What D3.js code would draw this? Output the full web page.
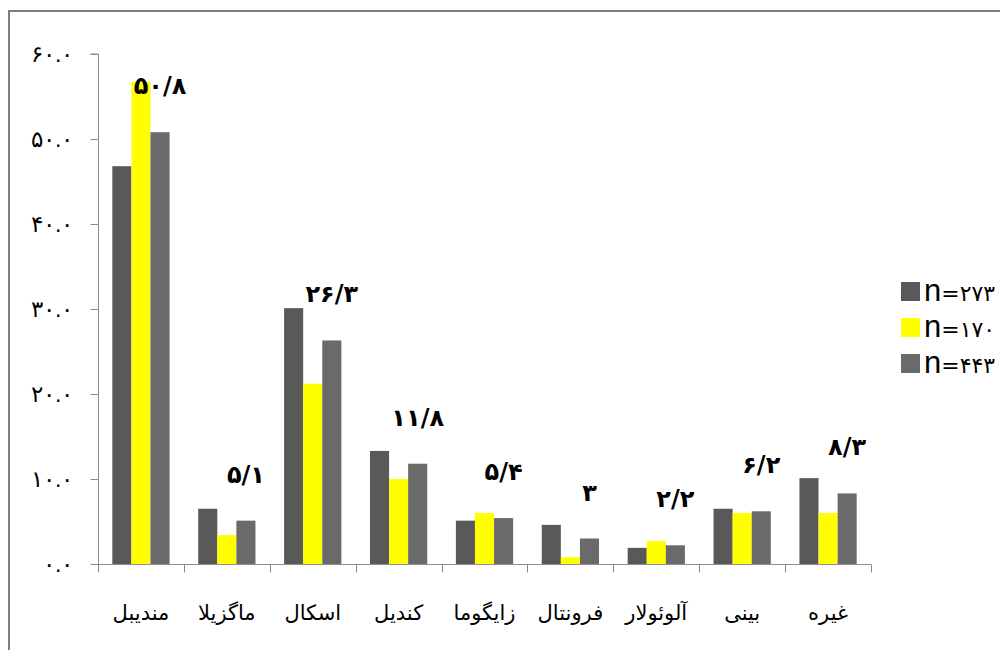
<!DOCTYPE html>
<html>
<head>
<meta charset="utf-8">
<script src="https://cdn.jsdelivr.net/npm/d3@7"></script>
<style>
  html, body { margin: 0; padding: 0; background: #fff; }
  svg { display: block; }
</style>
</head>
<body>
<div id="chart"></div>
<script>
const categories = ['مندیبل', 'ماگزیلا', 'اسکال', 'کندیل', 'زایگوما', 'فرونتال', 'آلوئولار', 'بینی', 'غیره'];
const seriesNames = ['۲۷۳', '۱۷۰', '۴۴۳'];
const n273 = [46.8, 6.5, 30.1, 13.3, 5.1, 4.6, 1.9, 6.5, 10.1];
const n170 = [56.7, 3.4, 21.2, 10.0, 6.0, 0.8, 2.7, 6.0, 6.0];
const n443 = [50.8, 5.1, 26.3, 11.8, 5.4, 3.0, 2.2, 6.2, 8.3];
const valueLabels = ['۵۰/۸', '۵/۱', '۲۶/۳', '۱۱/۸', '۵/۴', '۳', '۲/۲', '۶/۲', '۸/۳'];
const yTicks = [0, 10, 20, 30, 40, 50, 60];

const colors = ['#595959', '#ffff00', '#6a6a6a'];
const series = [n273, n170, n443];

const width = 1000;
const height = 650;
const axisColor = '#8c8c8c';

const faDigits = (s) => String(s).replace(/[0-9]/g, (d) => '۰۱۲۳۴۵۶۷۸۹'[+d]);

const svg = d3.select('#chart').append('svg')
  .attr('width', width)
  .attr('height', height)
  .attr('font-family', 'DejaVu Sans, sans-serif');

// outer frame (only top and left edges show in the picture)
svg.append('path')
  .attr('d', `M9,${height}V11H${width}`)
  .attr('fill', 'none')
  .attr('stroke', '#808080')
  .attr('stroke-width', 2);

const x = d3.scaleBand()
  .domain(categories)
  .range([98, 871]);

// 3 bars + gap of 150% of a bar
const inner = d3.scaleBand()
  .domain(d3.range(series.length))
  .range([0, x.bandwidth()])
  .paddingInner(0)
  .paddingOuter(0.75);

const y = d3.scaleLinear()
  .domain([0, 60])
  .range([564, 54]);

// bars
series.forEach((vals, si) => {
  svg.append('g')
    .selectAll('rect')
    .data(vals)
    .join('rect')
    .attr('x', (d, i) => x(categories[i]) + inner(si))
    .attr('y', (d) => y(d))
    .attr('width', inner.bandwidth())
    .attr('height', (d) => y(0) - y(d))
    .attr('fill', colors[si]);
});

// y axis
const yAxis = svg.append('g')
  .attr('transform', 'translate(98.5,0)')
  .call(d3.axisLeft(y).tickValues(yTicks).tickSize(8).tickPadding(17)
    .tickFormat((d) => faDigits(d3.format('.1f')(d))));
yAxis.select('.domain').attr('stroke', axisColor).attr('d', `M-8,${y(60)}H0V572`);
yAxis.selectAll('.tick line').attr('stroke', axisColor);
yAxis.selectAll('.tick text')
  .attr('font-size', 23)
  .attr('fill', '#000');

// x axis
const xAxis = svg.append('g')
  .attr('transform', `translate(0,${y(0) + 0.5})`);
xAxis.append('line')
  .attr('x1', 98).attr('x2', 871)
  .attr('stroke', axisColor);
xAxis.selectAll('line.tick')
  .data(categories.concat(['end']))
  .join('line')
  .attr('class', 'tick')
  .attr('x1', (d, i) => Math.round(i < categories.length ? x(d) : x.range()[1]) + 0.5)
  .attr('x2', (d, i) => Math.round(i < categories.length ? x(d) : x.range()[1]) + 0.5)
  .attr('y1', 0)
  .attr('y2', 8)
  .attr('stroke', axisColor);
xAxis.selectAll('text')
  .data(categories)
  .join('text')
  .attr('x', (d) => x(d) + x.bandwidth() / 2)
  .attr('y', 55)
  .attr('text-anchor', 'middle')
  .attr('font-size', 21)
  .text((d) => d);

// value labels above the combined series
svg.append('g')
  .selectAll('text')
  .data(valueLabels)
  .join('text')
  .attr('x', (d, i) => x(categories[i]) + inner(2) + inner.bandwidth() / 2)
  .attr('y', (d, i) => y(n443[i]) - 38)
  .attr('text-anchor', 'middle')
  .attr('font-size', 24)
  .attr('font-weight', 'bold')
  .text((d) => d);

// legend
const legend = svg.append('g')
  .selectAll('g')
  .data(seriesNames)
  .join('g')
  .attr('transform', (d, i) => `translate(901,${282 + i * 36})`);
legend.append('rect')
  .attr('width', 19)
  .attr('height', 19)
  .attr('fill', (d, i) => colors[i]);
const lt = legend.append('text')
  .attr('x', 23)
  .attr('y', 19);
lt.append('tspan')
  .attr('font-family', 'Liberation Sans, Arial, sans-serif')
  .attr('font-size', 31)
  .text('n');
lt.append('tspan')
  .attr('font-size', 22)
  .text((d) => '=' + d);
</script>
</body>
</html>
